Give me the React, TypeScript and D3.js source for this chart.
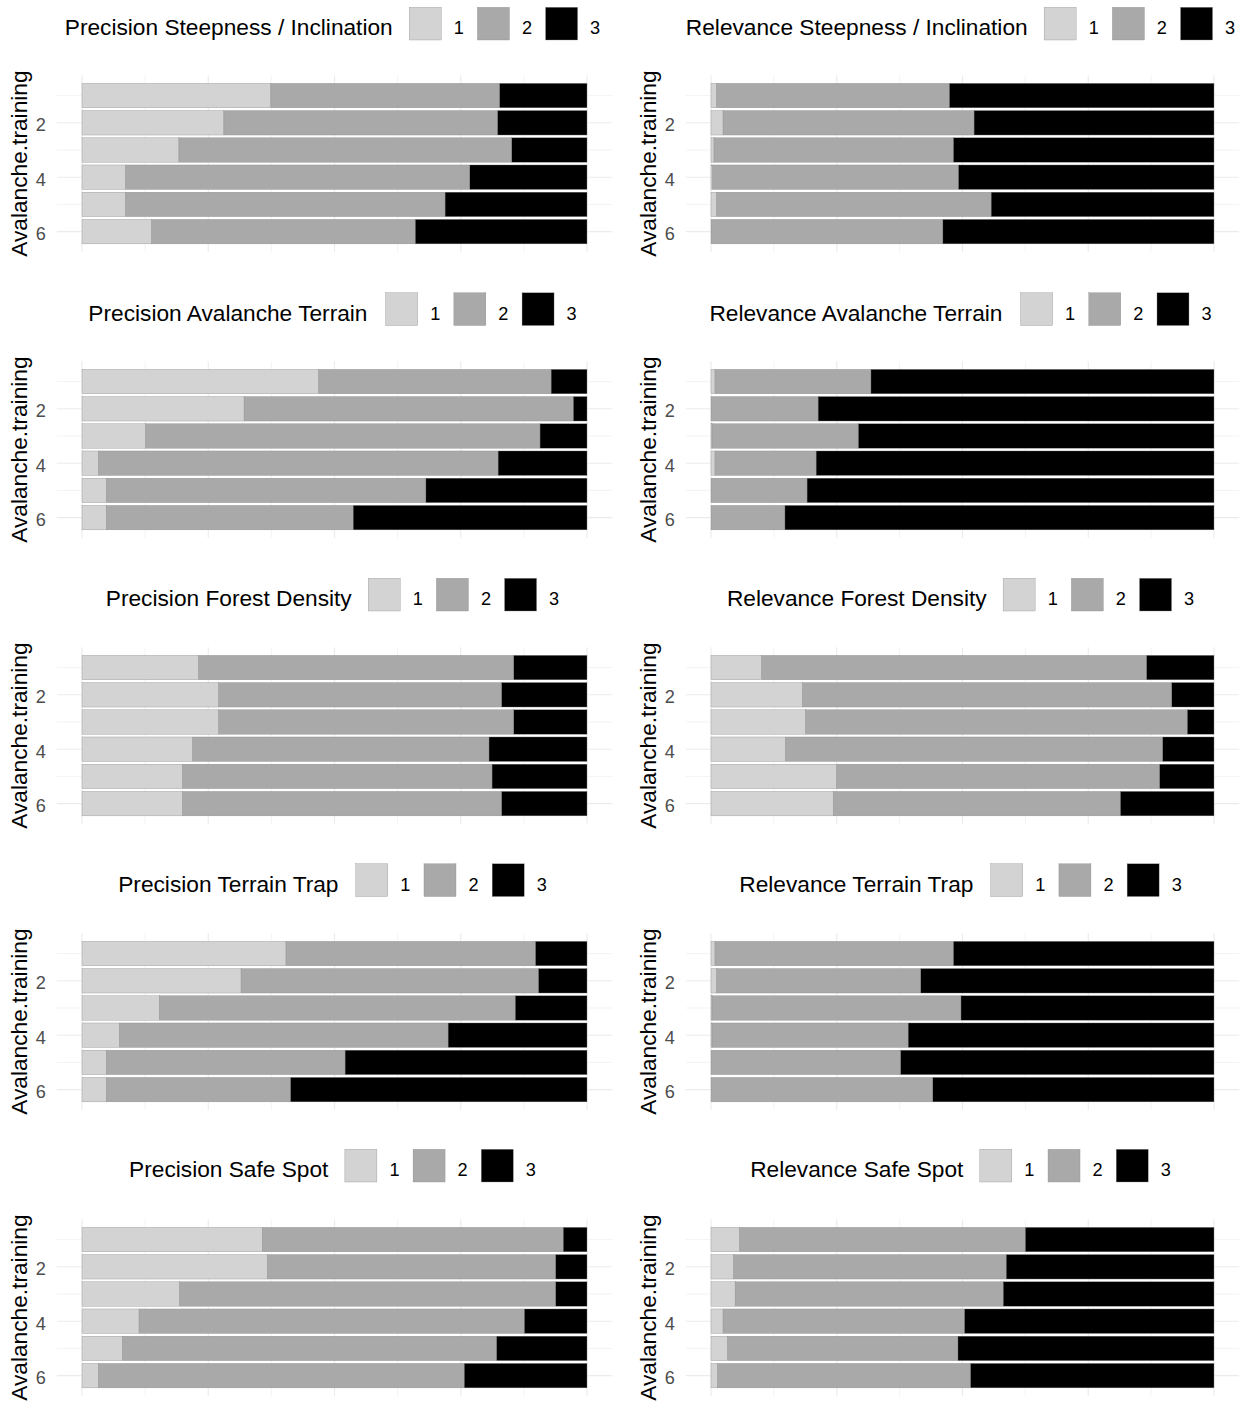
import { useMemo } from "react";
import * as d3 from "d3";

// Avalanche.training levels (rows, top to bottom) and answer levels (stack order)
const trainingLevels = [1, 2, 3, 4, 5, 6];
const answerLevels = ["1", "2", "3"];
const yTicks = [2, 4, 6];
const levelColors = ["#D3D3D3", "#A9A9A9", "#000000"];

// share of answers 1 / 2 / 3 for each training level
const precisionSteepness = [
  [0.374, 0.453, 0.173],
  [0.281, 0.542, 0.177],
  [0.192, 0.659, 0.149],
  [0.086, 0.682, 0.232],
  [0.086, 0.633, 0.281],
  [0.138, 0.522, 0.34],
];
const relevanceSteepness = [
  [0.011, 0.463, 0.526],
  [0.024, 0.499, 0.477],
  [0.006, 0.476, 0.518],
  [0.003, 0.489, 0.508],
  [0.011, 0.546, 0.443],
  [0.0, 0.461, 0.539],
];
const precisionTerrain = [
  [0.469, 0.46, 0.071],
  [0.321, 0.652, 0.027],
  [0.126, 0.781, 0.093],
  [0.033, 0.791, 0.176],
  [0.048, 0.633, 0.319],
  [0.048, 0.489, 0.463],
];
const relevanceTerrain = [
  [0.008, 0.31, 0.682],
  [0.0, 0.213, 0.787],
  [0.002, 0.291, 0.707],
  [0.008, 0.201, 0.791],
  [0.0, 0.191, 0.809],
  [0.0, 0.147, 0.853],
];
const precisionForest = [
  [0.231, 0.624, 0.145],
  [0.271, 0.56, 0.169],
  [0.271, 0.584, 0.145],
  [0.219, 0.587, 0.194],
  [0.199, 0.613, 0.188],
  [0.199, 0.632, 0.169],
];
const relevanceForest = [
  [0.101, 0.765, 0.134],
  [0.182, 0.734, 0.084],
  [0.188, 0.759, 0.053],
  [0.148, 0.75, 0.102],
  [0.25, 0.642, 0.108],
  [0.243, 0.571, 0.186],
];
const precisionTrap = [
  [0.404, 0.494, 0.102],
  [0.315, 0.589, 0.096],
  [0.153, 0.705, 0.142],
  [0.074, 0.651, 0.275],
  [0.048, 0.473, 0.479],
  [0.048, 0.365, 0.587],
];
const relevanceTrap = [
  [0.008, 0.474, 0.518],
  [0.011, 0.406, 0.583],
  [0.002, 0.495, 0.503],
  [0.002, 0.39, 0.608],
  [0.0, 0.377, 0.623],
  [0.0, 0.441, 0.559],
];
const precisionSafeSpot = [
  [0.357, 0.596, 0.047],
  [0.367, 0.571, 0.062],
  [0.193, 0.745, 0.062],
  [0.113, 0.763, 0.124],
  [0.08, 0.741, 0.179],
  [0.033, 0.724, 0.243],
];
const relevanceSafeSpot = [
  [0.057, 0.568, 0.375],
  [0.045, 0.542, 0.413],
  [0.048, 0.533, 0.419],
  [0.024, 0.48, 0.496],
  [0.033, 0.458, 0.509],
  [0.013, 0.503, 0.484],
];

const panels = [
  { title: "Precision Steepness / Inclination", rows: precisionSteepness },
  { title: "Relevance Steepness / Inclination", rows: relevanceSteepness },
  { title: "Precision Avalanche Terrain", rows: precisionTerrain },
  { title: "Relevance Avalanche Terrain", rows: relevanceTerrain },
  { title: "Precision Forest Density", rows: precisionForest },
  { title: "Relevance Forest Density", rows: relevanceForest },
  { title: "Precision Terrain Trap", rows: precisionTrap },
  { title: "Relevance Terrain Trap", rows: relevanceTrap },
  { title: "Precision Safe Spot", rows: precisionSafeSpot },
  { title: "Relevance Safe Spot", rows: relevanceSafeSpot },
];

const W = 1250;
const H = 1403;
const FONT = "'Liberation Sans', Arial, sans-serif";
const BIG = 22.7;
const SMALL = 18.16;
const ROW_STEP = 286;
const LEGEND_STEP = 285.5;
const COL_X = [
  [82, 587],
  [711, 1214],
];
const GRID = "#EBEBEB";

let ctx: CanvasRenderingContext2D | null = null;
function textWidth(s: string, size: number) {
  if (!ctx) ctx = document.createElement("canvas").getContext("2d");
  if (!ctx) return s.length * size * 0.5;
  ctx.font = `${size}px ${FONT}`;
  return ctx.measureText(s).width;
}

function Panel({ title, rows, index }: { title: string; rows: number[][]; index: number }) {
  const col = index % 2;
  const row = Math.floor(index / 2);
  const dy = row * ROW_STEP;
  const ly = row * LEGEND_STEP;

  const x = d3.scaleLinear().domain([0, 1]).range(COL_X[col]);
  const y = d3.scaleLinear().domain([0.255, 6.745]).range([75.3 + dy, 251.9 + dy]);
  const [px0, px1] = [x(-0.05), x(1.05)];
  const [py0, py1] = y.range();

  const stacked = useMemo(() => {
    const table = rows.map((r, i) => {
      const o: Record<string, number> = { training: trainingLevels[i] };
      answerLevels.forEach((k, j) => (o[k] = r[j]));
      return o;
    });
    return d3.stack<Record<string, number>>().keys(answerLevels).offset(d3.stackOffsetExpand)(table);
  }, [rows]);

  // legend, centred over the panel
  const titleW = textWidth(title, BIG);
  const labelW = answerLevels.map((l) => textWidth(l, SMALL));
  const key = 32;
  const total = titleW + 16.5 + d3.sum(labelW) + answerLevels.length * (key + 12.5) + (answerLevels.length - 1) * 13.6;
  let lx = (px0 + px1) / 2 - 2 - total / 2;
  const legendItems: { kx: number; tx: number; label: string; color: string }[] = [];
  const titleX = lx;
  lx += titleW + 16.5;
  answerLevels.forEach((l, i) => {
    legendItems.push({ kx: lx, tx: lx + key + 12.5, label: l, color: levelColors[i] });
    lx += key + 12.5 + labelW[i] + 13.6;
  });

  const xGrid = d3.range(0, 9).map((i) => i / 8);

  return (
    <g>
      {/* grid */}
      {xGrid.map((v, i) => (
        <line key={`gx${i}`} x1={x(v)} x2={x(v)} y1={py0} y2={py1} stroke={GRID} strokeWidth={i % 2 === 0 ? 1.1 : 0.6} />
      ))}
      {trainingLevels.map((v) => (
        <line key={`gy${v}`} x1={px0} x2={px1} y1={y(v)} y2={y(v)} stroke={GRID} strokeWidth={v % 2 === 0 ? 1.1 : 0.6} />
      ))}

      {/* bars */}
      {stacked.map((layer, li) =>
        layer.map((d, i) => {
          const w = x(d[1]) - x(d[0]);
          if (w <= 0) return null;
          return (
            <rect
              key={`b${li}-${i}`}
              x={x(d[0])}
              y={y(trainingLevels[i] - 0.45)}
              width={w}
              height={y(trainingLevels[i] + 0.45) - y(trainingLevels[i] - 0.45)}
              fill={levelColors[li]}
              stroke="#8a8a8a"
              strokeWidth={0.35}
            />
          );
        })
      )}

      {/* y axis */}
      {yTicks.map((t) => (
        <text key={`t${t}`} x={px0 - 11} y={y(t) + 8.5} textAnchor="end" fontSize={SMALL} fill="#4D4D4D" fontFamily={FONT}>
          {t}
        </text>
      ))}
      <text
        transform={`translate(${px0 - 29.5},${(py0 + py1) / 2}) rotate(-90)`}
        textAnchor="middle"
        fontSize={BIG}
        fill="#000"
        fontFamily={FONT}
      >
        Avalanche.training
      </text>

      {/* legend */}
      <text x={titleX} y={35 + ly} fontSize={BIG} fill="#000" fontFamily={FONT}>
        {title}
      </text>
      {legendItems.map((it) => (
        <g key={`l${it.label}`}>
          <rect x={it.kx} y={7.3 + ly} width={key} height={32.7} fill={it.color} stroke="#8a8a8a" strokeWidth={0.35} />
          <text x={it.tx} y={34 + ly} fontSize={SMALL} fill="#000" fontFamily={FONT}>
            {it.label}
          </text>
        </g>
      ))}
    </g>
  );
}

export default function App() {
  return (
    <svg
      width={W}
      height={H}
      viewBox={`0 0 ${W} ${H}`}
      style={{ position: "absolute", left: 0, top: 0, background: "#fff" }}
    >
      <rect width={W} height={H} fill="#fff" />
      {panels.map((p, i) => (
        <Panel key={p.title} title={p.title} rows={p.rows} index={i} />
      ))}
    </svg>
  );
}
